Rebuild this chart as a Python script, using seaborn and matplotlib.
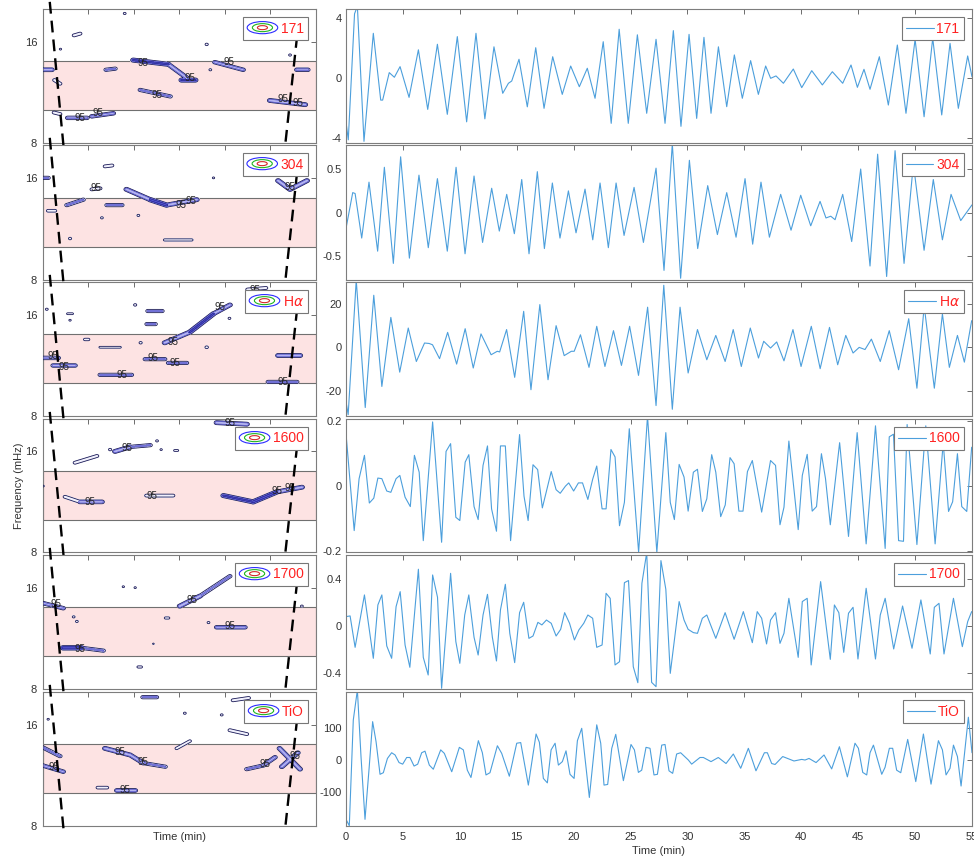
import numpy as np
import matplotlib
matplotlib.use("Agg")
import matplotlib.pyplot as plt
import seaborn as sns
from matplotlib.legend_handler import HandlerBase
from matplotlib.patches import Ellipse
from matplotlib.ticker import FixedLocator, FixedFormatter, NullLocator

sns.set_theme(style="white")
plt.rcParams["font.family"] = ["Liberation Sans", "DejaVu Sans"]

# ---------------------------------------------------------------- data
channels = ["171", "304", r"H$\alpha$", "1600", "1700", "TiO"]

# filtered light curves: (time in min, amplitude)
ts_171 = [(0, -2.9), (0.2, -4.1), (0.75, 4.3), (1.0, 4.8), (1.58, -4.2), (2.4, 3.0), (3.05, -1.45),
          (3.22, -1.45), (3.8, 0.38), (4.25, 0.07), (4.75, 0.78), (5.54, -1.27), (6.36, 1.9), (7.18, -2.07),
          (8.03, 2.27), (8.9, -2.4), (9.78, 2.78), (10.6, -2.9), (11.42, 3.0), (12.2, -2.7), (13.0, 2.1),
          (13.77, -1.0), (14.27, -0.33), (14.56, -0.18), (15.2, 1.27), (15.93, -1.9), (16.67, 2.04),
          (17.4, -2.0), (18.16, 1.44), (19.0, -1.07), (19.74, 0.82), (20.5, -0.56), (21.2, 0.67),
          (21.88, -1.33), (22.6, 2.44), (23.3, -3.0), (24.0, 3.27), (24.8, -3.0), (25.6, 2.9),
          (26.42, -2.33), (27.24, 2.6), (28.03, -3.0), (28.76, 3.18), (29.43, -3.2), (30.14, 2.93),
          (30.81, -2.67), (31.45, 2.73), (32.07, -2.33), (32.72, 2.1), (33.45, -1.89), (34.12, 1.56),
          (34.82, -1.33), (35.55, 1.18), (36.23, -1.07), (36.87, 0.82), (37.31, 0.0), (37.78, 0.16),
          (38.43, -0.33), (39.3, 0.62), (40.04, -0.62), (40.92, 0.51), (41.85, -0.44), (42.73, 0.44),
          (43.64, -0.33), (44.37, 0.89), (44.93, -0.6), (45.51, 0.6), (46.04, -0.73), (46.86, 1.44),
          (47.65, -1.78), (48.44, 2.22), (49.2, -2.33), (50.0, 2.6), (50.79, -2.56), (51.55, 2.67),
          (52.34, -2.44), (53.07, 2.33), (53.8, -2.0), (54.62, 1.49), (55.0, 0.1)]

ts_304 = [(0, -0.18), (0.59, 0.23), (0.8, 0.22), (1.38, -0.29), (2.02, 0.35), (2.78, -0.44), (3.37, 0.52),
          (4.16, -0.58), (4.8, 0.64), (5.57, -0.52), (6.41, 0.43), (7.23, -0.4), (8.03, 0.39), (8.9, -0.44),
          (9.67, 0.52), (10.46, -0.47), (11.25, 0.42), (12.0, -0.34), (12.8, 0.28), (13.47, -0.21),
          (14.12, 0.21), (14.79, -0.24), (15.44, 0.38), (16.08, -0.47), (16.81, 0.47), (17.43, -0.41),
          (18.13, 0.34), (18.8, -0.29), (19.54, 0.25), (20.21, -0.23), (21.0, 0.27), (21.68, -0.31),
          (22.32, 0.34), (23.05, -0.4), (23.73, 0.34), (24.43, -0.26), (25.31, 0.29), (26.13, -0.34),
          (27.24, 0.51), (27.94, -0.66), (28.67, 0.79), (29.4, -0.75), (30.17, 0.6), (30.9, -0.41),
          (31.78, 0.31), (32.63, -0.25), (33.45, 0.23), (34.27, -0.28), (35.06, 0.39), (35.73, -0.36),
          (36.46, 0.35), (37.2, -0.28), (38.19, 0.21), (39.1, -0.2), (39.95, 0.2), (40.83, -0.15),
          (41.65, 0.13), (42.17, -0.06), (42.59, -0.04), (42.97, -0.08), (43.64, 0.21), (44.43, -0.33),
          (45.22, 0.5), (46.04, -0.61), (46.71, 0.67), (47.5, -0.73), (48.24, 0.71), (49.03, -0.58),
          (49.85, 0.56), (50.79, -0.43), (51.6, 0.38), (52.4, -0.31), (53.16, 0.21), (54.01, -0.09),
          (55.0, 0.09)]

ts_ha = [(0, -25), (0.19, -31), (0.9, 31), (1.69, -27.7), (2.44, 24), (3.15, -18), (3.94, 13.8),
         (4.72, -11.4), (5.47, 8.9), (6.18, -6.5), (6.9, 2), (7.3, 1.8), (7.6, 1.2), (8.22, -5.2),
         (8.93, 6.9), (9.72, -7.7), (10.47, 8.6), (11.18, -9.5), (11.86, 6.2), (12.75, -3.4), (13.29, -1.8),
         (13.5, -2.1), (14.11, 8.2), (14.82, -13.8), (15.61, 16.6), (16.25, -19.5), (17.03, 19.7),
         (17.75, -14.9), (18.46, 10), (19.17, -3.8), (19.8, -1.8), (20.05, -1.8), (20.6, 5.8),
         (21.35, -9.2), (22.03, 9.7), (22.75, -8.8), (23.5, 7.7), (24.2, -8.3), (24.92, 9.7),
         (25.7, -12.9), (26.5, 18.5), (27.24, -26.8), (27.92, 28.6), (28.67, -28.5), (29.35, 18.5),
         (30.06, -11.8), (30.88, 8.2), (31.7, -5.7), (32.49, 5.5), (33.31, -6.5), (34.02, 8.2),
         (34.73, -8.8), (35.52, 8.9), (36.24, -4.9), (36.7, 2.8), (37.3, -0.3), (37.84, 2.5),
         (38.48, -6.2), (39.27, 8.2), (39.98, -8.8), (40.88, 9.7), (41.66, -9.8), (42.48, 9.2),
         (43.2, -8.0), (43.91, 5.5), (44.55, -2.6), (45.09, 0), (45.6, -1.0), (46.16, 3.8), (46.94, -6.5),
         (47.73, 7.7), (48.55, -10.3), (49.44, 13.2), (50.16, -18.8), (50.8, 19), (51.69, -18.8),
         (52.4, 15.4), (53.01, -9.2), (53.72, 5.5), (54.33, -6.8), (54.97, 12.3)]

ts_1600 = [(0, 0.162), (0.72, -0.137), (1.15, 0.023), (1.62, 0.095), (2.05, -0.052), (2.44, -0.037),
           (2.8, 0.025), (3.15, 0.023), (3.58, -0.015), (3.94, -0.019), (4.4, 0.023), (4.73, 0.033),
           (5.19, -0.034), (5.65, -0.063), (6.01, 0.095), (6.43, 0.043), (6.79, -0.168), (7.61, 0.198),
           (8.4, -0.173), (8.79, 0.107), (9.19, 0.131), (9.65, -0.096), (10.0, -0.106), (10.47, 0.074),
           (10.79, 0.097), (11.25, -0.063), (11.61, -0.103), (12.04, 0.064), (12.43, 0.124), (12.79, -0.07),
           (13.22, -0.139), (13.57, 0.124), (14.0, 0.124), (14.46, -0.168), (15.25, 0.159), (15.64, -0.031),
           (16.0, -0.106), (16.43, 0.066), (16.84, 0.051), (17.25, -0.067), (17.6, -0.017), (18.03, 0.045),
           (18.46, -0.011), (18.82, -0.022), (19.28, 0.0), (19.57, 0.01), (20.0, -0.015), (20.42, 0.01),
           (20.78, 0.01), (21.25, -0.041), (21.67, 0.021), (22.03, 0.062), (22.5, -0.07), (22.85, -0.07),
           (23.28, 0.113), (23.64, 0.09), (24.03, -0.122), (24.46, -0.05), (24.89, 0.177), (25.71, -0.204),
           (26.49, 0.216), (27.31, -0.204), (28.1, 0.165), (28.49, -0.05), (28.85, -0.103), (29.27, 0.067),
           (29.7, 0.028), (30.06, -0.077), (30.52, 0.043), (30.88, 0.052), (31.31, -0.078), (31.7, -0.039),
           (32.13, 0.097), (32.49, 0.043), (32.92, -0.094), (33.32, -0.058), (33.74, 0.088), (34.1, 0.069),
           (34.52, -0.077), (34.88, -0.077), (35.27, 0.045), (35.7, 0.079), (36.52, -0.08), (37.3, 0.079),
           (37.74, 0.064), (38.13, -0.119), (38.48, -0.065), (38.91, 0.139), (39.73, -0.134), (40.09, 0.033),
           (40.52, 0.098), (40.96, -0.077), (41.34, -0.063), (41.77, 0.1), (42.13, 0.023), (42.55, -0.119),
           (43.37, 0.134), (44.15, -0.155), (44.91, 0.165), (45.7, -0.178), (46.52, 0.186), (47.37, -0.192),
           (47.73, 0.152), (48.1, 0.16), (48.55, -0.168), (48.98, -0.17), (49.3, 0.19), (50.16, -0.18),
           (50.94, 0.186), (51.76, -0.178), (52.47, 0.134), (52.94, -0.078), (53.3, -0.048), (53.72, 0.1),
           (54.1, -0.063), (54.54, -0.078), (54.97, 0.12)]

ts_1700 = [(0, 0.08), (0.36, 0.086), (0.8, -0.183), (1.62, 0.266), (2.4, -0.277), (2.8, 0.18), (3.15, 0.266),
           (3.58, -0.171), (4.01, -0.277), (4.4, 0.166), (4.76, 0.294), (5.19, -0.163), (5.61, -0.354),
           (6.36, 0.486), (6.79, -0.269), (7.22, -0.42), (7.61, 0.437), (8.04, 0.246), (8.4, -0.534),
           (9.19, 0.451), (9.65, -0.134), (10.0, -0.32), (10.43, 0.094), (10.79, 0.266), (11.25, -0.097),
           (11.61, -0.249), (12.04, 0.094), (12.43, 0.271), (12.86, -0.097), (13.22, -0.3), (13.57, 0.137),
           (14.0, 0.357), (14.39, -0.063), (14.82, -0.314), (15.25, 0.114), (15.61, 0.203), (16.07, -0.106),
           (16.43, -0.086), (16.86, 0.031), (17.21, 0.009), (17.61, 0.051), (18.03, 0.023), (18.46, -0.086),
           (18.86, -0.029), (19.21, 0.114), (19.64, 0.023), (20.07, -0.12), (20.46, -0.034), (20.89, 0.023),
           (21.25, 0.094), (21.67, 0.066), (22.03, -0.183), (22.5, -0.163), (22.85, 0.28), (23.21, 0.237),
           (23.64, -0.334), (24.03, -0.306), (24.46, 0.371), (24.82, 0.389), (25.24, -0.349), (25.64, -0.486),
           (26.0, 0.366), (26.42, 0.629), (26.85, -0.483), (27.24, -0.52), (27.67, 0.56), (28.1, 0.314),
           (28.49, -0.406), (29.27, 0.209), (29.7, 0.051), (30.06, -0.029), (30.52, -0.057), (30.88, -0.063),
           (31.31, 0.066), (31.7, 0.094), (32.49, -0.106), (33.31, 0.114), (34.1, -0.114), (34.91, 0.123),
           (35.7, -0.143), (36.13, 0.123), (36.52, 0.066), (36.95, -0.154), (37.3, 0.051), (37.74, 0.114),
           (38.13, -0.149), (38.48, -0.063), (38.91, 0.237), (39.73, -0.269), (40.09, 0.209), (40.52, 0.237),
           (40.87, -0.334), (41.7, 0.38), (42.55, -0.286), (42.91, 0.18), (43.3, 0.114), (43.73, -0.226),
           (44.15, 0.109), (44.55, 0.16), (44.98, -0.283), (45.7, 0.323), (46.52, -0.283), (46.94, 0.094),
           (47.37, 0.237), (48.12, -0.197), (48.9, 0.171), (49.73, -0.191), (50.51, 0.223), (51.33, -0.24),
           (51.69, 0.16), (52.1, 0.194), (52.54, -0.24), (53.37, 0.237), (54.15, -0.177), (54.62, 0.037),
           (54.97, 0.123)]

ts_tio = [(0, -187), (0.29, -207), (0.64, 126), (1.0, 221), (1.32, 10), (1.67, -187), (2.03, -26),
          (2.34, 121), (2.64, 58), (2.99, -45), (3.28, -40), (3.64, 5), (4.01, 23), (4.31, 16), (4.66, -8),
          (4.98, -13), (5.33, 8), (5.62, 8), (5.98, -19), (6.3, -13), (6.65, 23), (6.94, 28), (7.32, -16),
          (7.67, -29), (8.32, 32), (8.64, 21), (9.29, -37), (9.96, 40), (10.31, 32), (10.66, -32),
          (10.98, -55), (11.63, 61), (11.98, 23), (12.3, -47), (12.65, -40), (13.3, 45), (13.68, 21),
          (14.35, -51), (15.0, 53), (15.35, 55), (16.02, -79), (16.7, 82), (16.99, 56), (17.34, -58),
          (17.69, -72), (18.02, 32), (18.37, 53), (18.66, -16), (19.01, -5), (19.33, 29), (19.68, -45),
          (20.04, -58), (20.33, 61), (20.71, 100), (21.38, -118), (22.03, 111), (22.38, 53), (22.67, -79),
          (22.99, -77), (23.35, 37), (23.7, 81), (24.37, -65), (25.04, 49), (25.34, 32), (25.69, -39),
          (25.98, -32), (26.36, 40), (26.71, 37), (27.06, -47), (27.36, -45), (27.74, 47), (28.03, 49),
          (28.38, -34), (28.7, -42), (29.05, 19), (29.4, 23), (30.08, 0), (30.37, -13), (31.1, 8),
          (31.4, 8), (32.07, -5), (32.71, 8), (33.39, -11), (34.03, 19), (34.68, -26), (35.35, 37),
          (36.02, -34), (36.76, 23), (37.02, 23), (37.4, -11), (37.7, -14), (38.37, 11), (39.36, -3),
          (40.04, 2), (40.33, 0), (40.68, 5), (41.3, -8), (42.0, 16), (42.67, -28), (43.35, 42),
          (44.05, -53), (44.72, 53), (45.02, 37), (45.4, -39), (45.75, -47), (46.04, 23), (46.34, 47),
          (47.07, -45), (47.36, -23), (47.74, 37), (48.03, 37), (48.38, -32), (48.74, -40), (49.35, 65),
          (50.06, -68), (50.73, 82), (51.4, -76), (52.05, 61), (52.4, 32), (52.72, -47), (53.07, -26),
          (53.37, 47), (53.72, 11), (54.04, -82), (54.68, 135), (55.0, 23)]

series = [ts_171, ts_304, ts_ha, ts_1600, ts_1700, ts_tio]

# y axis of each light-curve panel
ylims = [(-4.31, 4.62), (-0.77, 0.775), (-31.6, 30.1), (-0.203, 0.207), (-0.54, 0.608), (-208, 214.5)]
yticks = [[-4, 0, 4], [-0.5, 0, 0.5], [-20, 0, 20], [-0.2, 0, 0.2], [-0.4, 0, 0.4], [-100, 0, 100]]
yticklabels = [["-4", "0", "4"], ["-0.5", "0", "0.5"], ["-20", "0", "20"],
               ["-0.2", "0", "0.2"], ["-0.4", "0", "0.4"], ["-100", "0", "100"]]
time_ticks = list(range(0, 56, 5))

# significant wavelet power ridges: (t0, f0, t1, f1, strength), f in mHz
ridges_171 = [(0, 13.2, 2.0, 13.2, 2.2), (2.6, 12.3, 3.8, 12.0, 1.6), (2.5, 9.85, 3.8, 9.75, 1.6),
              (5.5, 9.5, 9.7, 9.5, 2.0), (10.8, 9.6, 15.5, 9.8, 2.0), (13.9, 13.2, 15.9, 13.3, 1.8),
              (6.9, 16.7, 8.2, 16.9, 1.6), (19.9, 14.1, 27.6, 13.7, 2.6), (27.6, 13.7, 31.6, 12.5, 2.2),
              (30.5, 12.3, 33.5, 12.3, 2.6), (21.4, 11.5, 28.0, 11.0, 1.8), (36.8, 13.2, 36.8, 13.2, 1.3),
              (36.0, 15.7, 36.0, 15.7, 1.4), (37.8, 13.9, 44.0, 13.2, 2.0), (54.3, 14.6, 54.3, 14.6, 1.3),
              (55.8, 13.2, 58.2, 13.2, 2.0), (49.9, 10.7, 57.6, 10.4, 2.4), (18.0, 19.4, 18.0, 19.4, 1.3),
              (3.9, 15.2, 3.9, 15.2, 1.2)]
ridges_304 = [(0, 16.0, 1.2, 16.0, 1.8), (13.7, 17.3, 15.2, 17.4, 1.6), (10.8, 14.8, 12.6, 14.9, 1.6),
              (5.3, 13.3, 8.9, 13.8, 1.8), (1.2, 12.8, 2.7, 12.8, 1.5), (14.1, 13.3, 17.4, 13.3, 1.8),
              (18.4, 14.8, 23.6, 13.8, 2.4), (23.6, 13.8, 27.2, 13.3, 2.8), (27.2, 13.3, 33.8, 13.8, 2.4),
              (13.0, 12.2, 13.0, 12.2, 1.3), (21.0, 12.4, 21.0, 12.4, 1.3), (6.0, 10.6, 6.0, 10.6, 1.4),
              (26.8, 10.5, 32.7, 10.5, 1.3), (51.7, 15.7, 54.3, 14.8, 2.4), (54.3, 14.8, 58.0, 15.7, 2.4),
              (37.5, 16.0, 37.5, 16.0, 1.2)]
ridges_ha = [(0.9, 16.6, 0.9, 16.6, 1.3), (5.5, 16.1, 6.5, 16.1, 1.2), (6.0, 15.4, 6.0, 15.4, 1.2),
             (20.3, 17.1, 20.3, 17.1, 1.4), (23.1, 16.4, 26.2, 16.4, 1.8), (22.9, 15.0, 24.7, 15.0, 1.8),
             (26.8, 13.2, 32.3, 14.2, 2.4), (32.3, 14.2, 37.5, 16.1, 2.6), (37.5, 16.1, 41.1, 17.1, 2.2),
             (41.0, 15.6, 41.0, 15.6, 1.3), (9.3, 13.5, 10.0, 13.5, 1.4), (12.6, 12.8, 17.0, 12.8, 1.2),
             (21.5, 13.2, 21.5, 13.2, 1.4), (0.0, 11.9, 3.4, 11.9, 2.0), (2.3, 11.3, 7.1, 11.3, 2.0),
             (22.5, 11.8, 26.8, 11.8, 1.8), (27.6, 11.5, 31.6, 11.5, 1.8), (36.0, 12.8, 36.0, 12.8, 1.5),
             (12.6, 10.6, 19.5, 10.6, 1.8), (51.7, 12.1, 56.5, 12.1, 2.4), (49.5, 10.1, 55.8, 10.1, 1.8),
             (45.0, 19.0, 49.0, 19.2, 1.6)]
ridges_1600 = [(38.2, 19.5, 44.8, 19.3, 2.4), (14.8, 16.2, 14.8, 16.2, 1.4), (15.9, 16.0, 19.2, 16.5, 2.4),
               (19.2, 16.5, 23.6, 16.7, 1.8), (7.1, 14.8, 11.9, 15.5, 1.6), (25.1, 17.2, 25.1, 17.2, 1.3),
               (26.0, 16.2, 26.0, 16.2, 1.2), (29.0, 16.1, 29.6, 16.1, 1.2), (4.9, 11.7, 8.2, 11.3, 1.6),
               (8.2, 11.3, 13.0, 11.3, 2.2), (22.8, 11.8, 28.6, 11.8, 1.6), (39.7, 11.8, 46.2, 11.3, 2.6),
               (46.2, 11.3, 51.4, 12.1, 2.8), (51.4, 12.1, 56.9, 12.5, 2.4), (0.1, 12.6, 0.1, 12.6, 1.2)]
ridges_1700 = [(0.0, 14.4, 4.5, 13.9, 2.0), (6.8, 13.1, 6.8, 13.1, 1.3), (7.5, 12.7, 7.5, 12.7, 1.3),
               (4.5, 10.6, 8.5, 10.6, 3.0), (8.5, 10.6, 13.3, 10.4, 1.8), (30.1, 14.1, 34.5, 15.1, 2.4),
               (34.5, 15.1, 41.1, 17.3, 1.8), (17.7, 16.1, 17.7, 16.1, 1.2), (20.3, 16.0, 20.3, 16.0, 1.2),
               (27.0, 13.0, 27.6, 13.0, 1.3), (36.4, 12.6, 36.4, 12.6, 1.3), (38.2, 12.2, 44.4, 12.2, 2.0),
               (24.3, 10.9, 24.3, 10.9, 1.1), (56.9, 14.1, 56.9, 14.1, 1.3), (21.0, 9.3, 21.6, 9.3, 1.3)]
ridges_tio = [(22.0, 19.3, 25.0, 19.3, 1.8), (41.8, 18.9, 45.2, 19.2, 1.6), (31.2, 17.3, 31.2, 17.3, 1.3),
              (39.3, 17.1, 39.3, 17.1, 1.3), (41.1, 15.4, 44.8, 15.0, 1.6), (29.4, 13.6, 32.3, 14.3, 1.4),
              (13.7, 13.6, 19.2, 13.0, 2.4), (19.2, 13.0, 22.1, 12.3, 2.2), (22.1, 12.3, 26.9, 12.0, 1.8),
              (0.0, 13.7, 3.8, 12.9, 1.8), (0.0, 12.1, 4.5, 11.6, 2.0), (44.8, 11.8, 48.4, 12.1, 1.8),
              (48.4, 12.1, 51.0, 12.8, 2.0), (52.0, 13.6, 56.5, 11.8, 2.2), (52.5, 12.0, 56.0, 13.2, 2.2),
              (12.1, 10.4, 14.1, 10.4, 1.5), (16.3, 10.2, 20.3, 10.2, 2.2), (1.2, 16.6, 1.2, 16.6, 1.2)]
ridges = [ridges_171, ridges_304, ridges_ha, ridges_1600, ridges_1700, ridges_tio]

# positions of the "95" contour labels (t, f)
labels_171 = [(8.2, 9.5), (12.2, 9.85), (22.0, 13.8), (32.4, 12.5), (25.0, 11.1), (40.8, 13.9),
              (52.8, 10.8), (56.1, 10.5)]
labels_304 = [(11.6, 14.9), (30.4, 13.3), (32.6, 13.7), (54.3, 15.0)]
labels_ha = [(28.5, 13.3), (39.0, 16.9), (2.2, 12.05), (4.6, 11.2), (24.3, 11.9), (29.0, 11.5),
             (17.4, 10.6), (52.7, 10.1), (46.5, 19.0)]
labels_1600 = [(41.1, 19.4), (18.4, 16.4), (10.4, 11.3), (23.9, 11.8), (51.4, 12.2), (54.3, 12.4)]
labels_1700 = [(3.0, 14.3), (8.2, 10.5), (32.7, 14.7), (41.1, 12.3)]
labels_tio = [(16.9, 13.3), (22.1, 12.4), (2.5, 12.0), (48.8, 12.2), (55.4, 12.9), (18.1, 10.2)]
sig_labels = [labels_171, labels_304, labels_ha, labels_1600, labels_1700, labels_tio]

# frequency band of interest (mHz) and cone of influence edges (t, f)
band = (10.0, 14.0)
coi_left = [(1.55, 21.0), (4.58, 7.8)]
coi_right = [(56.3, 18.9), (53.2, 7.8)]

# ---------------------------------------------------------------- style
LINE = "#4c9fdc"
FRAME = "#7d7d7d"
TXT = "#333333"
RED = "#ff2222"

W, H = 974, 860
rows_px = [(9, 143), (145, 280), (282, 416), (419, 552), (555, 689), (692, 826)]
left_px = (42.7, 316)
right_px = (346, 972)


def box(x, y):
    return [x[0] / W, 1 - y[1] / H, (x[1] - x[0]) / W, (y[1] - y[0]) / H]


class RingKey:
    pass


class RingHandler(HandlerBase):
    def create_artists(self, legend, orig_handle, xdescent, ydescent, width, height, fontsize, trans):
        cx = width / 2 - xdescent
        cy = height / 2 - ydescent
        arts = []
        for s, c in zip((1.0, 0.66, 0.33), ("#2c2cff", "#21b621", "#d42a2a")):
            arts.append(Ellipse((cx, cy), width * s, height * 1.25 * s, fill=False,
                                edgecolor=c, lw=0.8, transform=trans))
        return arts


tg = np.linspace(0, 60, 721)
lg = np.linspace(np.log2(7.8), np.log2(20.6), 520)
TT, LL = np.meshgrid(tg, lg)
ST, SL = 0.6, 0.021


def power_map(feats):
    Z = np.zeros_like(TT)
    px, py = TT / ST, LL / SL
    for t0, f0, t1, f1, a in feats:
        ax0, ay0 = t0 / ST, np.log2(f0) / SL
        dx, dy = (t1 - t0) / ST, (np.log2(f1) - np.log2(f0)) / SL
        den = dx * dx + dy * dy
        u = 0.0 if den == 0 else np.clip(((px - ax0) * dx + (py - ay0) * dy) / den, 0, 1)
        d2 = (px - ax0 - u * dx) ** 2 + (py - ay0 - u * dy) ** 2
        Z = np.maximum(Z, a * np.exp(-d2))
    return Z


def style_axes(ax):
    for sp in ax.spines.values():
        sp.set_color(FRAME)
        sp.set_linewidth(0.8)
    ax.tick_params(axis="both", which="both", direction="in", length=3.5, width=0.6,
                   color="#555555", labelsize=8, labelcolor=TXT, top=True, right=True)


fig = plt.figure(figsize=(W / 100, H / 100), dpi=100)

for i, name in enumerate(channels):
    # ---- wavelet spectrum panel
    axl = fig.add_axes(box(left_px, rows_px[i]))
    axl.set_yscale("log", base=2)
    axl.axhspan(band[0], band[1], facecolor="#fde3e3", edgecolor="#707070", lw=0.8, zorder=0)
    Z = power_map(ridges[i])
    axl.contourf(TT, 2 ** LL, Z, levels=[1.0, 1.7, 2.4, 100],
                 colors=["#f0f0fd", "#b4b4f0", "#5555d2"], zorder=2)
    axl.contour(TT, 2 ** LL, Z, levels=[1.0], colors=["#1a1a55"], linewidths=0.6, zorder=3)
    axl.contour(TT, 2 ** LL, Z, levels=[1.7, 2.4], colors=["#4a4ac8", "#23238a"],
                linewidths=0.45, zorder=3)
    for lt, lf in sig_labels[i]:
        axl.text(lt, lf, "95", fontsize=7, color="#222222", ha="center", va="center", zorder=4)
    for seg in (coi_left, coi_right):
        axl.plot([seg[0][0], seg[1][0]], [seg[0][1], seg[1][1]], color="black", lw=1.7,
                 linestyle=(0, (5, 3)), clip_on=False, zorder=5)
    axl.set_xlim(0, 60)
    axl.set_ylim(8, 20)
    axl.xaxis.set_major_locator(FixedLocator([10, 20, 30, 40, 50]))
    axl.yaxis.set_major_locator(FixedLocator([8, 16]))
    axl.yaxis.set_major_formatter(FixedFormatter(["8", "16"]))
    axl.yaxis.set_minor_locator(NullLocator())
    style_axes(axl)
    axl.tick_params(labelbottom=False, pad=4)
    lg_l = axl.legend([RingKey()], [name], handler_map={RingKey: RingHandler()}, loc="upper right",
                      fancybox=False, framealpha=1, edgecolor="#777777", fontsize=10,
                      handlelength=2.2, handletextpad=0.2, borderpad=0.3, borderaxespad=0.6)
    lg_l.get_frame().set_linewidth(0.8)
    for tx in lg_l.get_texts():
        tx.set_color(RED)
    if i == 3:
        axl.set_ylabel("Frequency (mHz)", fontsize=8, color=TXT, labelpad=0.5)
    if i == 5:
        axl.set_xlabel("Time (min)", fontsize=8, color=TXT, labelpad=4.5)

    # ---- light curve panel
    axr = fig.add_axes(box(right_px, rows_px[i]))
    tv = np.array(series[i], dtype=float)
    sns.lineplot(x=tv[:, 0], y=tv[:, 1], ax=axr, color=LINE, linewidth=0.8, label=name,
                 estimator=None, sort=False)
    axr.set_xlim(0, 55)
    axr.set_ylim(*ylims[i])
    axr.set_xticks(time_ticks)
    axr.set_yticks(yticks[i])
    axr.set_yticklabels(yticklabels[i])
    style_axes(axr)
    axr.tick_params(axis="y", pad=3)
    axr.tick_params(axis="x", pad=4.5)
    if i < 5:
        axr.tick_params(labelbottom=False)
    else:
        axr.set_xticklabels([str(v) for v in time_ticks])
        axr.set_xlabel("Time (min)", fontsize=8, color=TXT, labelpad=3)
    axr.set_ylabel("")
    lg_r = axr.legend(handles=axr.lines[:1], labels=[name], loc="upper right", fancybox=False,
                      framealpha=1, edgecolor="#777777", fontsize=10, handlelength=2.0,
                      handletextpad=0.2, borderpad=0.3, borderaxespad=0.6)
    lg_r.get_frame().set_linewidth(0.8)
    for tx in lg_r.get_texts():
        tx.set_color(RED)

fig.savefig("out.png", dpi=100)
